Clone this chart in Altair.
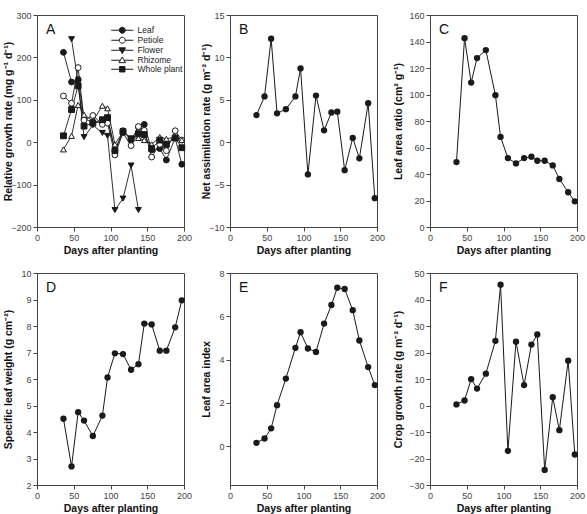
import altair as alt
import pandas as pd

FONT = "Liberation Sans"
INK = "#1a1a1a"
W, H = 147, 212

days = [36, 47, 56, 64, 76, 89, 96, 106, 117, 128, 138, 146, 156, 167, 176, 188, 197]

# A: relative growth rate of each organ (mg g-1 d-1); None = organ not sampled
rgr_series = ["Leaf", "Petiole", "Flower", "Rhizome", "Whole plant"]
rgr_leaf = [212, 142, 148, 55, 48, 45, 56, -20, 27, 5, 36, 42, -18, -15, -42, 10, -52]
rgr_petiole = [109, 92, 176, 52, 63, 42, 45, -30, 22, -8, 37, 28, -35, -5, -20, 27, 5]
rgr_flower = [None, 243, 140, 12, 40, 22, 15, -160, -133, -55, -160,
              None, None, None, None, None, None]
rgr_rhizome = [-17, 15, 88, 65, 50, 86, 80, -5, 25, 10, 10, 5, -5, 12, 8, 12, 5]
rgr_whole = [15, 77, 133, 38, 45, 53, 58, -20, 25, 8, 20, 18, -15, 5, -5, 10, -13]

# B-F: whole-crop growth indices
nar = [3.2, 5.4, 12.2, 3.4, 3.9, 5.4, 8.7, -3.8, 5.5, 1.4, 3.5, 3.6, -3.3, 0.5, -1.9, 4.6, -6.6]
lar = [49, 142.5, 109, 127.5, 133.5, 99.5, 68, 52, 48, 52, 53, 50, 50, 46.5, 36.3, 26.2, 19.4]
slw = [4.5, 2.7, 4.75, 4.43, 3.85, 4.62, 6.06, 6.97, 6.94, 6.35, 6.56, 8.09, 8.06, 7.07, 7.07, 7.95, 8.97]
lai = [0.15, 0.35, 0.82, 1.89, 3.12, 4.54, 5.26, 4.51, 4.35, 5.66, 6.52, 7.32, 7.26, 6.28, 4.88, 3.65, 2.82]
cgr = [0.4, 1.9, 9.95, 6.4, 12, 24.4, 45.6, -17.1, 24.1, 7.7, 23, 26.8, -24.3, 3.1, -9.3, 16.9, -18.5]

x_ticks = [0, 50, 100, 150, 200]


def x_enc():
    return alt.X("day:Q", scale=alt.Scale(domain=[0, 200], nice=False, zero=False),
                 axis=alt.Axis(values=x_ticks, title="Days after planting", labelFlush=False))


def y_enc(field, title, domain, ticks, extent, tpad):
    return alt.Y(f"{field}:Q", scale=alt.Scale(domain=domain, nice=False, zero=False),
                 axis=alt.Axis(values=ticks, title=title, minExtent=extent,
                               maxExtent=extent, titlePadding=tpad))


def letter(ch):
    return alt.Chart(pd.DataFrame({"t": [ch]})).mark_text(
        align="left", baseline="alphabetic", fontSize=14, font=FONT, color="#111"
    ).encode(x=alt.value(9), y=alt.value(18.5), text=alt.value(ch))


def single(values, title, domain, ticks, extent, tpad, ch):
    df = pd.DataFrame({"day": days, "v": values})
    base = alt.Chart(df)
    x = x_enc()
    y = y_enc("v", title, domain, ticks, extent, tpad)
    line = base.mark_line(color=INK, strokeWidth=1).encode(x=x, y=y)
    pts = base.mark_point(filled=True, color=INK, size=40, opacity=1).encode(x=x, y=y)
    return alt.layer(line, pts, letter(ch)).properties(width=W, height=H)


# --- panel A: five organs, one line + marker style each
rows = []
for name, vals in zip(rgr_series, [rgr_leaf, rgr_petiole, rgr_flower, rgr_rhizome, rgr_whole]):
    for d, v in zip(days, vals):
        if v is not None:
            rows.append({"day": d, "v": v, "series": name})
rgr = pd.DataFrame(rows)

plot_shapes = ["circle", "circle", "triangle-down", "triangle-up", "square"]
fills = [INK, "white", INK, "white", INK]
# key symbols (unit = 2 px): a short line with the marker drawn across it
key_shapes = [
    "M-5.5,0H-1.5M1.5,0H5.5M-1.5,0A1.5,1.5,0,1,1,1.5,0A1.5,1.5,0,1,1,-1.5,0Z",
    "M-5.5,0H-1.5M1.5,0H5.5M-1.5,0A1.5,1.5,0,1,1,1.5,0A1.5,1.5,0,1,1,-1.5,0Z",
    "M-5.5,0H-0.9M0.9,0H5.5M-1.65,-1.2L1.65,-1.2L0,1.65Z",
    "M-5.5,0H-0.9M0.9,0H5.5M0,-1.65L1.65,1.2L-1.65,1.2Z",
    "M-5.5,0H-1.35M1.35,0H5.5M-1.35,-1.35H1.35V1.35H-1.35Z",
]

xa = x_enc()
ya = y_enc("v", "Relative growth rate (mg g\u207b\u00b9 d\u207b\u00b9)", [-200, 300],
           [-200, -100, 0, 100, 200, 300], 21, 2.5)
base_a = alt.Chart(rgr)
layers_a = [base_a.mark_line(color=INK, strokeWidth=0.9).encode(x=xa, y=ya, detail="series:N")]
for name, shp, fil in zip(rgr_series, plot_shapes, fills):
    layers_a.append(
        base_a.transform_filter(alt.datum.series == name)
        .mark_point(shape=shp, fill=fil, stroke=INK, strokeWidth=1, size=34, opacity=1)
        .encode(x=xa, y=ya)
    )
leg = alt.Legend(
    orient="none", legendX=81, legendY=11, title=None, symbolSize=16,
    symbolStrokeWidth=1, symbolOpacity=1,
    labelFontSize=8.5, labelFont=FONT, labelColor="#222",
    labelOffset=11, rowPadding=-2, padding=0,
)
layers_a.append(
    base_a.mark_point(size=0, opacity=0).encode(
        x=xa, y=ya,
        shape=alt.Shape("series:N", scale=alt.Scale(domain=rgr_series, range=key_shapes), legend=leg),
        fill=alt.Fill("series:N", scale=alt.Scale(domain=rgr_series, range=fills), legend=leg),
        stroke=alt.Stroke("series:N", scale=alt.Scale(domain=rgr_series, range=[INK] * 5), legend=leg),
    )
)
layers_a.append(letter("A"))
panel_a = alt.layer(*layers_a).properties(width=W, height=H)

panel_b = single(nar, "Net assimilation rate (g m\u207b\u00b2 d\u207b\u00b9)", [-10, 15],
                 [-10, -5, 0, 5, 10, 15], 17, 2, "B")
panel_c = single(lar, "Leaf area ratio (cm\u00b2 g\u207b\u00b9)", [0, 160],
                 [0, 20, 40, 60, 80, 100, 120, 140, 160], 24, 2.5, "C")
panel_d = single(slw, "Specific leaf weight (g cm\u207b\u00b2)", [2, 10],
                 [2, 3, 4, 5, 6, 7, 8, 9, 10], 21, 2.5, "D")
panel_e = single(lai, "Leaf area index", [-1.8, 8], [0, 2, 4, 6, 8], 17, 2, "E")
panel_f = single(cgr, "Crop growth rate (g m\u207b\u00b2 d\u207b\u00b9)", [-30, 50],
                 [-30, -20, -10, 0, 10, 20, 30, 40, 50], 24, 2.5, "F")

chart = alt.vconcat(
    alt.hconcat(panel_a, panel_b, panel_c, spacing=7),
    alt.hconcat(panel_d, panel_e, panel_f, spacing=7),
    spacing=12,
).properties(
    padding={"left": 3, "top": 10, "right": 0, "bottom": 0}
).configure(font=FONT).configure_axis(
    labelFont=FONT, labelFontSize=9, labelColor="#444",
    titleFont=FONT, titleFontSize=10.5, titleFontWeight="bold", titleColor="#111",
    tickSize=4, tickColor="#444", tickWidth=1, domainColor="#444", domainWidth=1,
    labelPadding=2, grid=False,
).configure_axisX(titlePadding=3).configure_view(stroke="#444", strokeWidth=1)

chart.save("out.html", embed_options={"renderer": "svg", "actions": False})
